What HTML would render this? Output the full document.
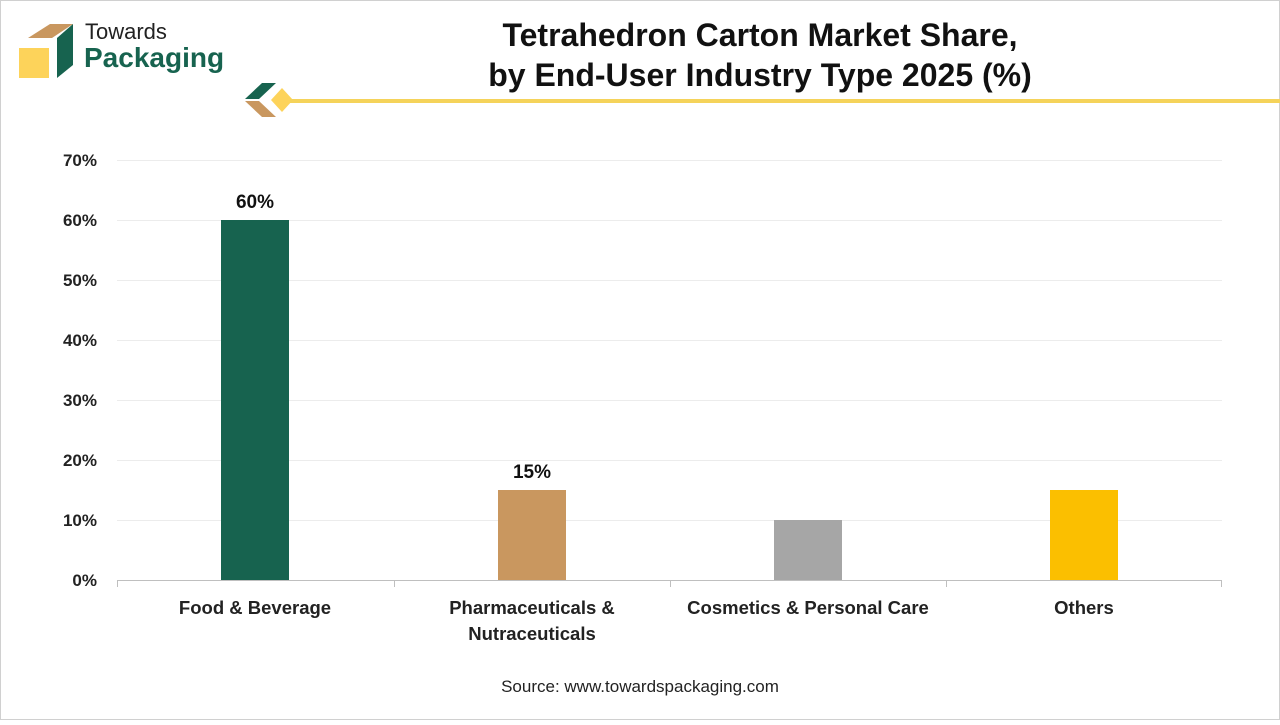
<!DOCTYPE html>
<html><head><meta charset="utf-8"><style>
body{margin:0;width:1280px;height:720px;background:#fff;font-family:"Liberation Sans","DejaVu Sans",sans-serif;overflow:hidden}
</style></head><body>
<svg width="1280" height="720" xmlns="http://www.w3.org/2000/svg" font-family="Liberation Sans, DejaVu Sans, sans-serif">
<rect x="0.5" y="0.5" width="1279" height="719" fill="#fff" stroke="#d0d0d0"/>
<!-- logo -->
<polygon points="28,38 50,24 73,24 52,38" fill="#c9975f"/>
<rect x="19" y="48" width="30" height="30" fill="#fdd35a"/>
<polygon points="57,38 73,24 73,65 57,78" fill="#17634f"/>
<text x="85" y="39" font-size="22" fill="#222">Towards</text>
<text x="84" y="67" font-size="28" font-weight="bold" fill="#17634f">Packaging</text>
<!-- divider -->
<polygon points="245,99 262,83 276,83 259,99" fill="#17634f"/>
<polygon points="245,101 259,101 276,117 262,117" fill="#c9975f"/>
<polygon points="282,88 293,100 282,112 271,100" fill="#fdd35a"/>
<rect x="290" y="99" width="990" height="4" fill="#f5d35a"/>
<text x="760" y="46" font-size="32" font-weight="bold" text-anchor="middle" fill="#111">Tetrahedron Carton Market Share,</text>
<text x="760" y="86" font-size="32" font-weight="bold" text-anchor="middle" fill="#111">by End-User Industry Type 2025 (%)</text>
<!-- grid -->
<g stroke="#ececec" stroke-width="1">
<line x1="117" x2="1222" y1="160.5" y2="160.5"/><line x1="117" x2="1222" y1="220.5" y2="220.5"/>
<line x1="117" x2="1222" y1="280.5" y2="280.5"/><line x1="117" x2="1222" y1="340.5" y2="340.5"/>
<line x1="117" x2="1222" y1="400.5" y2="400.5"/><line x1="117" x2="1222" y1="460.5" y2="460.5"/>
<line x1="117" x2="1222" y1="520.5" y2="520.5"/>
</g>
<g font-size="17" font-weight="bold" fill="#222" text-anchor="end">
<text x="97" y="166">70%</text><text x="97" y="226">60%</text><text x="97" y="286">50%</text>
<text x="97" y="346">40%</text><text x="97" y="406">30%</text><text x="97" y="466">20%</text>
<text x="97" y="526">10%</text><text x="97" y="586">0%</text>
</g>
<rect x="221" y="220" width="68" height="360" fill="#17634f"/>
<rect x="498" y="490" width="68" height="90" fill="#c9975f"/>
<rect x="774" y="520" width="68" height="60" fill="#a6a6a6"/>
<rect x="1050" y="490" width="68" height="90" fill="#fbbf00"/>
<line x1="117" x2="1222" y1="580.5" y2="580.5" stroke="#bfbfbf"/>
<g stroke="#bfbfbf"><line x1="117.5" x2="117.5" y1="580" y2="587"/><line x1="394.5" x2="394.5" y1="580" y2="587"/><line x1="670.5" x2="670.5" y1="580" y2="587"/><line x1="946.5" x2="946.5" y1="580" y2="587"/><line x1="1221.5" x2="1221.5" y1="580" y2="587"/></g>
<g font-size="19" font-weight="bold" fill="#111" text-anchor="middle">
<text x="255" y="208">60%</text><text x="532" y="478">15%</text>
</g>
<g font-size="18.5" font-weight="bold" fill="#222" text-anchor="middle">
<text x="255" y="614">Food &amp; Beverage</text>
<text x="532" y="614">Pharmaceuticals &amp;</text><text x="532" y="640">Nutraceuticals</text>
<text x="808" y="614">Cosmetics &amp; Personal Care</text>
<text x="1084" y="614">Others</text>
</g>
<text x="640" y="692" font-size="17" text-anchor="middle" fill="#222">Source: www.towardspackaging.com</text>
</svg>
</body></html>
